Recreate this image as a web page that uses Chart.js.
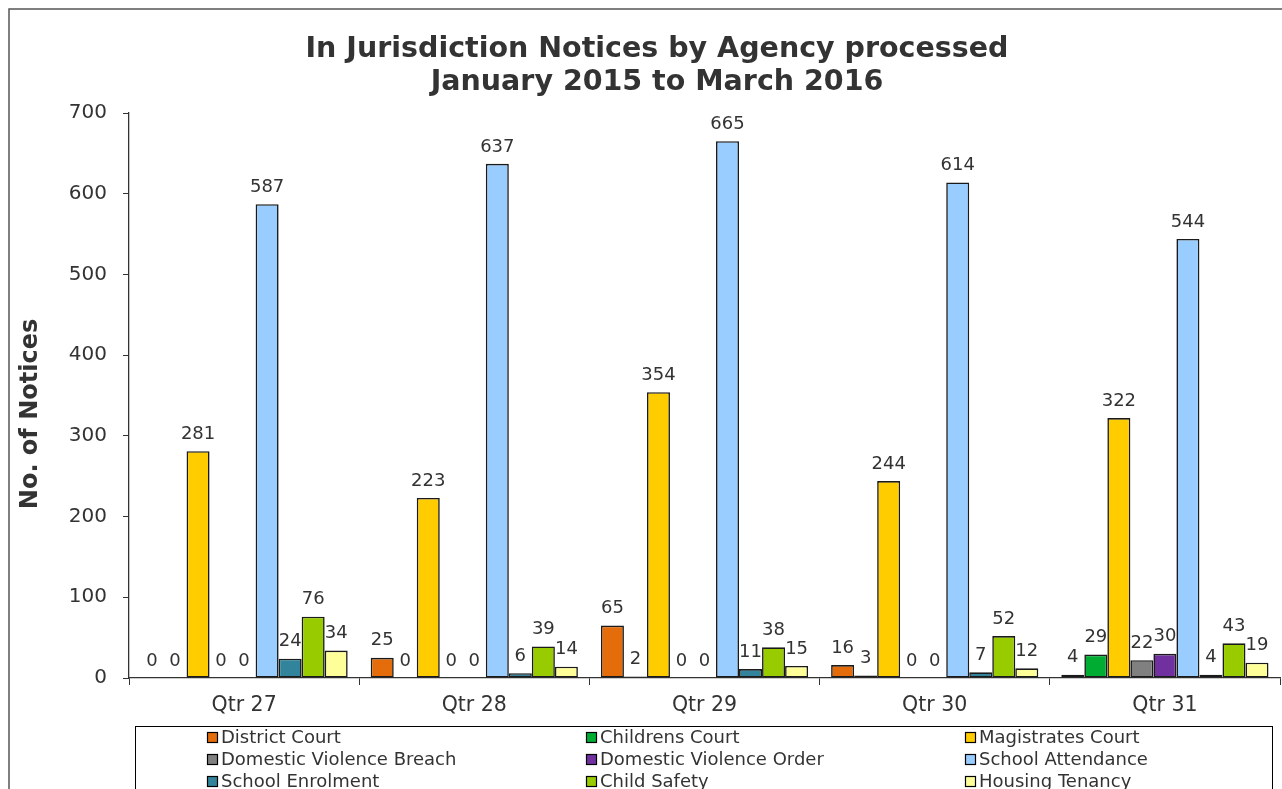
<!DOCTYPE html>
<html><head><meta charset="utf-8">
<script src="https://cdn.jsdelivr.net/npm/chart.js@4.4.1/dist/chart.umd.min.js"></script>
<style>html,body{margin:0;padding:0;background:#fff;overflow:hidden}#wrap{width:1282px;height:789px;position:relative}</style>
</head><body><div id="wrap"><canvas id="c"></canvas></div>
<script>
const categories = ['Qtr 27', 'Qtr 28', 'Qtr 29', 'Qtr 30', 'Qtr 31'];
const districtCourt = [0, 25, 65, 16, 4];
const childrensCourt = [0, 0, 2, 3, 29];
const magistratesCourt = [281, 223, 354, 244, 322];
const dvBreach = [0, 0, 0, 0, 22];
const dvOrder = [0, 0, 0, 0, 30];
const schoolAttendance = [587, 637, 665, 614, 544];
const schoolEnrolment = [24, 6, 11, 7, 4];
const childSafety = [76, 39, 38, 52, 43];
const housingTenancy = [34, 14, 15, 12, 19];
const yTickValues = [0, 100, 200, 300, 400, 500, 600, 700];
const seriesNames = ['District Court', 'Childrens Court', 'Magistrates Court', 'Domestic Violence Breach', 'Domestic Violence Order', 'School Attendance', 'School Enrolment', 'Child Safety', 'Housing Tenancy'];
const seriesValues = [districtCourt, childrensCourt, magistratesCourt, dvBreach, dvOrder, schoolAttendance, schoolEnrolment, childSafety, housingTenancy];
const seriesColors = ['#E46C0A', '#00AC32', '#FFCC00', '#808080', '#7030A0', '#99CCFF', '#31849B', '#99CC00', '#FFFF99'];
const titleLines = ['In Jurisdiction Notices by Agency processed', 'January 2015 to March 2016'];
const yTitle = 'No. of Notices';

const FONT = "'DejaVu Sans', Verdana, sans-serif";
const TXT = '#333333';

const datasets = seriesNames.map((n, i) => ({
  label: n,
  data: seriesValues[i],
  backgroundColor: seriesColors[i],
  borderColor: '#1a1a1a',
  borderWidth: ctx => (ctx.raw === 0 ? 0 : 1.6),
  borderSkipped: false,
  categoryPercentage: 0.9,
  barPercentage: 1.0
}));

const deco = {
  id: 'deco',
  beforeDraw(chart) {
    const ctx = chart.ctx;
    ctx.save();
    ctx.fillStyle = '#fff';
    ctx.fillRect(0, 0, chart.width, chart.height);
    ctx.strokeStyle = '#555';
    ctx.lineWidth = 1.5;
    ctx.beginPath();
    ctx.moveTo(9, chart.height + 5);
    ctx.lineTo(9, 9);
    ctx.lineTo(chart.width + 5, 9);
    ctx.stroke();
    ctx.restore();
  },
  afterDraw(chart) {
    const ctx = chart.ctx;
    ctx.save();
    // title
    ctx.fillStyle = TXT;
    ctx.textAlign = 'center';
    ctx.textBaseline = 'middle';
    ctx.font = 'bold 28.5px ' + FONT;
    ctx.fillText(titleLines[0], 657, 50);
    ctx.fillText(titleLines[1], 657, 83);
    // y title
    ctx.save();
    ctx.translate(31, 414);
    ctx.rotate(-Math.PI / 2);
    ctx.font = 'bold 24px ' + FONT;
    ctx.fillText(yTitle, 0, 0);
    ctx.restore();
    // value labels
    ctx.font = '18px ' + FONT;
    ctx.textBaseline = 'middle';
    chart.data.datasets.forEach((ds, i) => {
      const meta = chart.getDatasetMeta(i);
      meta.data.forEach((bar, j) => {
        ctx.fillText(String(ds.data[j]), bar.x, bar.y - 17);
      });
    });
    // legend
    const lx = 135.5, ly = 726.5, lw = 1137;
    ctx.strokeStyle = '#000';
    ctx.lineWidth = 1;
    ctx.strokeRect(lx, ly, lw, 100);
    ctx.font = '18px ' + FONT;
    ctx.textAlign = 'left';
    ctx.textBaseline = 'middle';
    const colX = [207, 586, 965];
    const rowY = [737, 759, 781];
    chart.data.datasets.forEach((ds, i) => {
      const cx = colX[i % 3], cy = rowY[Math.floor(i / 3)];
      ctx.fillStyle = ds.backgroundColor;
      ctx.fillRect(cx, cy - 5, 10, 10);
      ctx.strokeStyle = '#000';
      ctx.lineWidth = 1.2;
      ctx.strokeRect(cx + 0.5, cy - 4.5, 10, 10);
      ctx.fillStyle = TXT;
      ctx.fillText(ds.label, cx + 14, cy + 1);
    });
    ctx.restore();
  }
};

new Chart(document.getElementById('c'), {
  type: 'bar',
  data: { labels: categories, datasets },
  options: {
    responsive: true,
    maintainAspectRatio: false,
    animation: false,
    devicePixelRatio: 1,
    layout: { padding: { left: 0, right: 2, top: 113, bottom: 0 } },
    plugins: { legend: { display: false }, title: { display: false }, tooltip: { enabled: false } },
    scales: {
      x: {
        offset: true,
        grid: { display: true, offset: true, drawOnChartArea: false, tickLength: 7, color: '#333', lineWidth: 1 },
        border: { display: true, color: '#333', width: 1.3 },
        ticks: { color: TXT, font: { family: FONT, size: 20.5 }, padding: 8 },
        afterFit: s => { s.height = 111; }
      },
      y: {
        min: 0, max: 700,
        afterBuildTicks: s => { s.ticks = yTickValues.map(v => ({ value: v })); },
        grid: { display: true, drawOnChartArea: false, tickLength: 6, color: '#333', lineWidth: 1 },
        border: { display: true, color: '#333', width: 1.3 },
        ticks: { color: TXT, font: { family: FONT, size: 20 }, padding: 16 },
        afterFit: s => { s.width = 129; }
      }
    }
  },
  plugins: [deco]
});
</script>
</body></html>
